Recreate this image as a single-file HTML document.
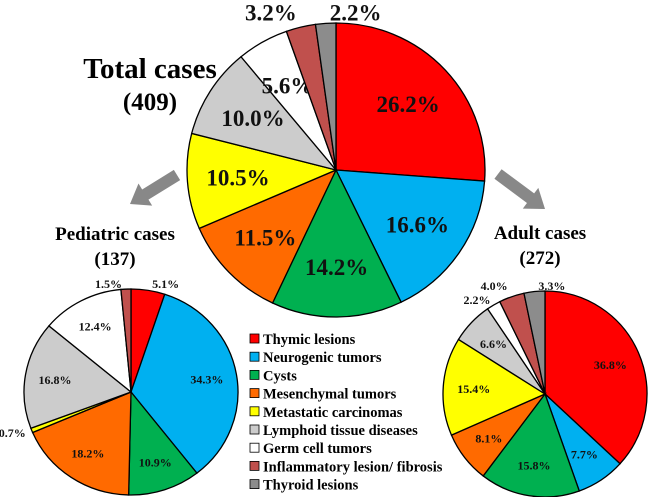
<!DOCTYPE html>
<html><head><meta charset="utf-8"><style>
body{margin:0;background:#fff;}
svg{display:block;font-family:"Liberation Serif",serif;font-weight:bold;}
</style></head><body>
<svg id="c" width="650" height="497" viewBox="0 0 650 497" xmlns="http://www.w3.org/2000/svg">
<text x="150" y="78" font-size="29" text-anchor="middle">Total cases</text>
<text x="150" y="110" font-size="25" text-anchor="middle">(409)</text>
<text x="115" y="240" font-size="19" text-anchor="middle">Pediatric cases</text>
<text x="115" y="265" font-size="19" text-anchor="middle">(137)</text>
<text x="540" y="239" font-size="19" text-anchor="middle">Adult cases</text>
<text x="540" y="264" font-size="19" text-anchor="middle">(272)</text>
<g id="arrows"></g>
<g id="legend"></g>
</svg>
<script>
const categories=["Thymic lesions","Neurogenic tumors","Cysts","Mesenchymal tumors","Metastatic carcinomas","Lymphoid tissue diseases","Germ cell tumors","Inflammatory lesion/ fibrosis","Thyroid lesions"];
const colors=["#ff0000","#00b0f0","#00b050","#ff6a00","#ffff00","#cccccc","#ffffff","#c0504d","#8c8c8c"];
const totalValues=[26.2,16.6,14.2,11.5,10.5,10.0,5.6,3.2,2.2];
const pediatricValues=[5.1,34.3,10.9,18.2,0.7,16.8,12.4,1.5,0];
const adultValues=[36.8,7.7,15.8,8.1,15.4,6.6,2.2,4.0,3.3];
const NS="http://www.w3.org/2000/svg";
const svg=document.getElementById('c');
function arrow(x0,y0,x1,y1,name){
  const dx=x1-x0,dy=y1-y0,L=Math.hypot(dx,dy),ux=dx/L,uy=dy/L,nx=-uy,ny=ux;
  const hl=18,sw=6,hw=13;
  const bx=x1-ux*hl,by=y1-uy*hl;
  const pts=[[x0+nx*sw,y0+ny*sw],[bx+nx*sw,by+ny*sw],[bx+nx*hw,by+ny*hw],[x1,y1],[bx-nx*hw,by-ny*hw],[bx-nx*sw,by-ny*sw],[x0-nx*sw,y0-ny*sw]];
  const p=document.createElementNS(NS,'polygon');
  p.setAttribute('points',pts.map(q=>q.join(',')).join(' '));
  p.setAttribute('fill','#888');
  
  
  document.getElementById('arrows').appendChild(p);
}
arrow(177,175,130,204,'arrow-left');
arrow(498,174,545,209,'arrow-right');
function pie(vals,cx,cy,rx,ry,fs,lf,name){
  const g=document.createElementNS(NS,'g');
  
  
  svg.appendChild(g);
  const tot=vals.reduce((a,b)=>a+b,0);
  let a0=-Math.PI/2;
  vals.forEach((v,i)=>{
    if(v<=0)return;
    const a1=a0+v/tot*2*Math.PI;
    const x0=cx+rx*Math.cos(a0),y0=cy+ry*Math.sin(a0),x1=cx+rx*Math.cos(a1),y1=cy+ry*Math.sin(a1);
    const p=document.createElementNS(NS,'path');
    p.setAttribute('d',`M${cx},${cy}L${x0},${y0}A${rx},${ry} 0 ${a1-a0>Math.PI?1:0} 1 ${x1},${y1}Z`);
    p.setAttribute('fill',colors[i]);p.setAttribute('stroke','#000');p.setAttribute('stroke-width','1.3');
    
    
    g.appendChild(p);
    const am=(a0+a1)/2;
    const t=document.createElementNS(NS,'text');
    const small=v<5.5;
    if(small){
      const c=Math.cos(am),s=Math.sin(am);
      const startSide=c>0.02||i===categories.length-1;
      let x=cx+rx*1.06*c,y=cy+ry*1.06*s+fs*0.35;
      if(s<-0.9){y=cy-ry-fs*0.1;x=cx+rx*c+(startSide?4:-4);}
      t.setAttribute('text-anchor',startSide?'start':'end');
      t.setAttribute('x',x);t.setAttribute('y',y);
    }else{
      t.setAttribute('text-anchor','middle');
      t.setAttribute('x',cx+rx*lf*Math.cos(am));t.setAttribute('y',cy+ry*lf*Math.sin(am)+fs*0.35);
    }
    t.setAttribute('font-size',fs);t.setAttribute('fill','#111');
    t.textContent=v.toFixed(1)+'%';
    
    
    g.appendChild(t);
    a0=a1;
  });
}
pie(totalValues,336,170,149,147,23,0.66,'total-pie');
pie(pediatricValues,131,392,107,103,12,0.72,'pediatric-pie');
pie(adultValues,545,394,102,103,12,0.7,'adult-pie');
const lg=document.getElementById('legend');
categories.forEach((c,i)=>{
  const y=339+i*18.2;
  const r=document.createElementNS(NS,'rect');
  r.setAttribute('x',250);r.setAttribute('y',y-5);r.setAttribute('width',9);r.setAttribute('height',9);
  r.setAttribute('fill',colors[i]);r.setAttribute('stroke','#000');r.setAttribute('stroke-width','0.8');
  
  
  lg.appendChild(r);
  const t=document.createElementNS(NS,'text');
  t.setAttribute('x',263);t.setAttribute('y',y+5);t.setAttribute('font-size','14.5');
  t.textContent=c;
  
  
  lg.appendChild(t);
});
</script>
</body></html>
